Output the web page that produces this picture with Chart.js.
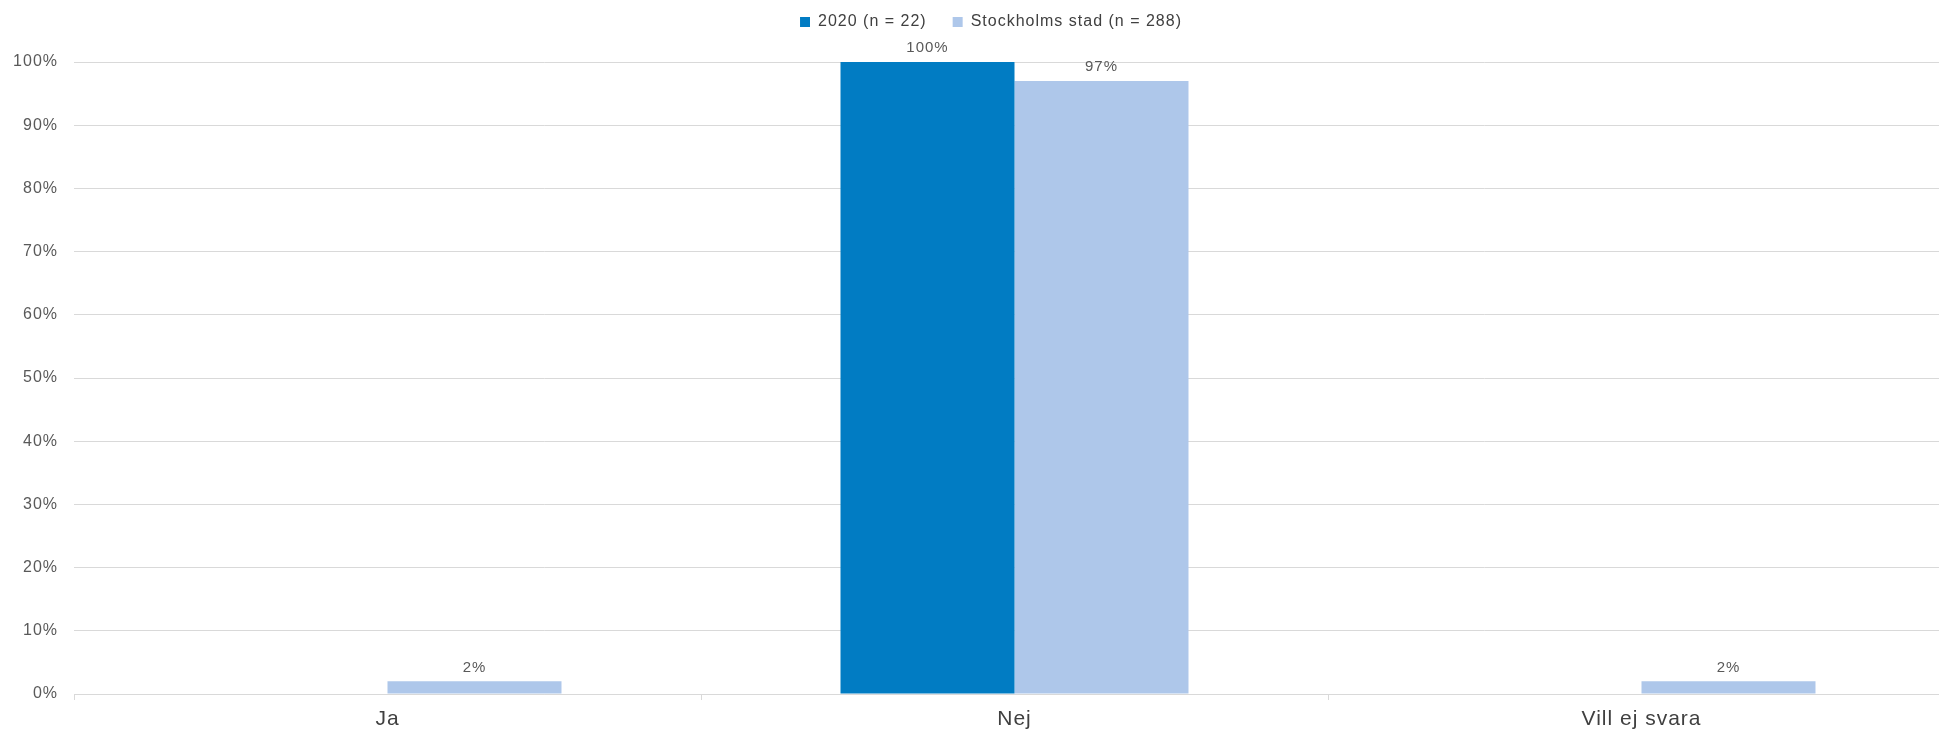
<!DOCTYPE html>
<html>
<head>
<meta charset="utf-8">
<script src="https://cdn.jsdelivr.net/npm/chart.js@4/dist/chart.umd.min.js"></script>
<style>
  html, body { margin: 0; padding: 0; background: #ffffff; overflow: hidden; }
  #wrap { position: relative; width: 1955px; height: 731px; }
</style>
</head>
<body>
<div id="wrap"><canvas id="c"></canvas></div>
<script>
const categories = ['Ja', 'Nej', 'Vill ej svara'];
const seriesNames = ['2020 (n = 22)', 'Stockholms stad (n = 288)'];
const values2020 = [0, 100, 0];
const valuesStockholm = [2, 97, 2];
const yTicks = [0, 10, 20, 30, 40, 50, 60, 70, 80, 90, 100];

const FONT = '"Liberation Sans", Arial, sans-serif';

const spacingPlugin = {
  id: 'spacing',
  afterInit(chart) {
    const lg = chart.legend;
    if (lg && !lg._patched) {
      const orig = lg.fit.bind(lg);
      lg.fit = function () {
        orig();
        this.height = 74;
        if (this.lineWidths && this.lineWidths.length) this.lineWidths[0] -= 27;
      };
      lg._patched = true;
    }
  },
  beforeUpdate(chart) { chart.ctx.letterSpacing = '1px'; },
  resize(chart) { chart.ctx.letterSpacing = '1px'; },
  beforeDraw(chart) { chart.ctx.letterSpacing = '1px'; }
};

const labelPlugin = {
  id: 'barLabels',
  afterDatasetsDraw(chart) {
    const ctx = chart.ctx;
    ctx.save();
    ctx.letterSpacing = '1px';
    ctx.font = '15px ' + FONT;
    ctx.fillStyle = '#595959';
    ctx.textAlign = 'center';
    ctx.textBaseline = 'middle';
    chart.data.datasets.forEach((ds, di) => {
      const meta = chart.getDatasetMeta(di);
      meta.data.forEach((bar, i) => {
        const v = ds.data[i];
        if (v > 0) ctx.fillText(v + '%', bar.x, bar.y - 14);
      });
    });
    ctx.restore();
  }
};

new Chart(document.getElementById('c'), {
  type: 'bar',
  data: {
    labels: categories,
    datasets: [
      { label: seriesNames[0], data: values2020, backgroundColor: '#017CC3', borderWidth: 0 },
      { label: seriesNames[1], data: valuesStockholm, backgroundColor: '#AEC7EA', borderWidth: 0 }
    ]
  },
  options: {
    responsive: true,
    maintainAspectRatio: false,
    animation: false,
    events: [],
    layout: { padding: { top: -12, left: 0, right: 0, bottom: 0 } },
    datasets: { bar: { categoryPercentage: 0.555, barPercentage: 1.0 } },
    plugins: {
      legend: {
        position: 'top',
        labels: {
          boxWidth: 10, boxHeight: 10, padding: 26,
          color: '#404040',
          font: { family: FONT, size: 16 }
        }
      },
      tooltip: { enabled: false }
    },
    scales: {
      x: {
        afterFit(s) { s.height = 37; },
        grid: { display: true, drawOnChartArea: false, drawTicks: true, tickLength: 6, color: '#d9d9d9', offset: true },
        border: { display: true, color: '#d9d9d9', width: 1 },
        ticks: { color: '#404040', padding: 7, font: { family: FONT, size: 21 } }
      },
      y: {
        min: 0, max: 100,
        afterFit(s) { s.width = 74; },
        afterBuildTicks(s) { s.ticks = yTicks.map(v => ({ value: v })); },
        grid: { color: '#d9d9d9', drawTicks: false, lineWidth: 1 },
        border: { display: false },
        ticks: {
          color: '#595959', padding: 16,
          font: { family: FONT, size: 16 },
          callback: v => v + '%'
        }
      }
    }
  },
  plugins: [spacingPlugin, labelPlugin]
});
</script>
</body>
</html>
